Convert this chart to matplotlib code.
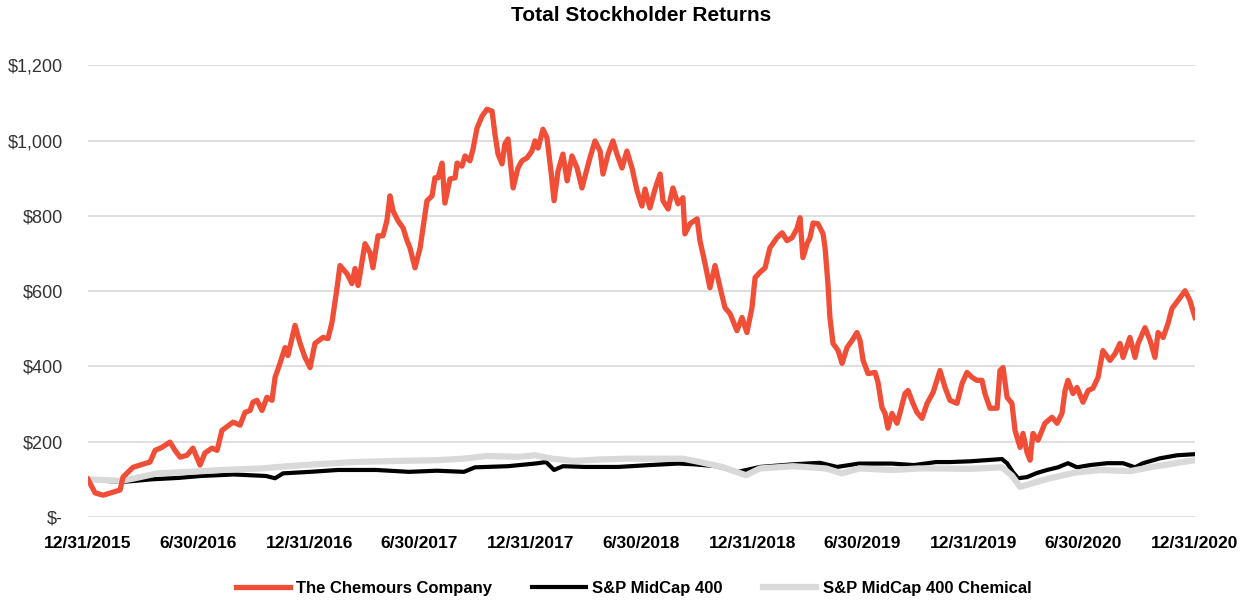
import numpy as np
import pandas as pd
import matplotlib
matplotlib.use("Agg")
import matplotlib.pyplot as plt
from matplotlib.ticker import FuncFormatter

plt.rcParams['font.family'] = ['Liberation Sans Narrow', 'Liberation Sans', 'DejaVu Sans']

# time in years after 12/31/2015
chemours_t = [0.000, 0.032, 0.068, 0.113, 0.145, 0.158, 0.203, 0.235, 0.280, 0.303,
              0.334, 0.370, 0.393, 0.416, 0.447, 0.474, 0.506, 0.528, 0.560, 0.583,
              0.605, 0.655, 0.687, 0.709, 0.732, 0.745, 0.763, 0.786, 0.808, 0.831,
              0.845, 0.867, 0.890, 0.903, 0.935, 0.958, 0.980, 1.003, 1.025, 1.061,
              1.084, 1.102, 1.125, 1.138, 1.170, 1.192, 1.206, 1.220, 1.251, 1.274,
              1.287, 1.310, 1.332, 1.350, 1.364, 1.378, 1.400, 1.423, 1.441, 1.454,
              1.477, 1.500, 1.513, 1.531, 1.554, 1.567, 1.581, 1.599, 1.612, 1.635,
              1.658, 1.667, 1.689, 1.703, 1.725, 1.739, 1.757, 1.780, 1.802, 1.825,
              1.838, 1.852, 1.870, 1.883, 1.897, 1.920, 1.942, 1.960, 1.983, 2.005,
              2.019, 2.033, 2.055, 2.073, 2.092, 2.105, 2.123, 2.145, 2.164, 2.186,
              2.209, 2.231, 2.254, 2.267, 2.290, 2.313, 2.326, 2.349, 2.371, 2.389,
              2.412, 2.434, 2.457, 2.480, 2.502, 2.516, 2.538, 2.561, 2.584, 2.597,
              2.620, 2.642, 2.665, 2.687, 2.696, 2.719, 2.751, 2.764, 2.787, 2.809,
              2.832, 2.855, 2.877, 2.900, 2.931, 2.954, 2.976, 2.999, 3.013, 3.035,
              3.058, 3.080, 3.112, 3.135, 3.157, 3.180, 3.202, 3.216, 3.229, 3.248,
              3.261, 3.275, 3.297, 3.320, 3.329, 3.342, 3.351, 3.365, 3.388, 3.406,
              3.428, 3.451, 3.473, 3.487, 3.501, 3.523, 3.555, 3.568, 3.586, 3.600,
              3.613, 3.631, 3.654, 3.668, 3.690, 3.704, 3.726, 3.744, 3.767, 3.790,
              3.817, 3.848, 3.871, 3.893, 3.925, 3.948, 3.970, 3.993, 4.015, 4.038,
              4.051, 4.074, 4.106, 4.119, 4.133, 4.151, 4.173, 4.187, 4.210, 4.223,
              4.241, 4.255, 4.268, 4.291, 4.322, 4.354, 4.377, 4.399, 4.413, 4.426,
              4.449, 4.467, 4.494, 4.517, 4.539, 4.562, 4.584, 4.616, 4.639, 4.661,
              4.675, 4.706, 4.729, 4.743, 4.774, 4.797, 4.819, 4.833, 4.856, 4.878,
              4.896, 4.923, 4.955, 4.977, 5.000]
chemours = [100, 64, 58, 66, 72, 106, 132, 138, 146, 177,
            185, 199, 177, 159, 164, 183, 138, 170, 183, 177,
            230, 252, 244, 278, 283, 305, 310, 283, 318, 310,
            371, 408, 450, 429, 509, 461, 424, 397, 461, 477,
            474, 517, 609, 668, 646, 620, 660, 615, 726, 702,
            662, 747, 747, 787, 853, 813, 787, 768, 734, 715,
            662, 715, 768, 840, 853, 901, 901, 940, 834, 898,
            901, 940, 932, 959, 946, 977, 1033, 1065, 1083, 1078,
            1017, 964, 938, 991, 1004, 874, 927, 946, 954, 972,
            999, 980, 1030, 1007, 914, 840, 919, 964, 893, 959,
            927, 874, 925, 954, 999, 972, 911, 964, 999, 964,
            927, 972, 927, 866, 826, 871, 821, 871, 911, 840,
            818, 874, 832, 848, 752, 779, 792, 734, 673, 609,
            668, 609, 556, 540, 495, 530, 490, 556, 636, 650,
            662, 715, 742, 755, 734, 742, 766, 795, 689, 726,
            742, 781, 779, 752, 715, 620, 530, 461, 442, 408,
            450, 469, 490, 469, 416, 381, 384, 358, 291, 275,
            236, 275, 249, 278, 328, 336, 302, 278, 262, 302,
            331, 389, 344, 310, 302, 355, 384, 371, 363, 363,
            328, 289, 289, 389, 397, 318, 302, 230, 185, 222,
            172, 151, 222, 204, 249, 265, 249, 275, 336, 363,
            328, 344, 305, 336, 342, 371, 442, 416, 434, 461,
            424, 477, 424, 461, 503, 469, 424, 490, 477, 514,
            554, 575, 601, 575, 530]

midcap_t = [0.000, 0.149, 0.212, 0.285, 0.411, 0.510, 0.659, 0.804, 0.845, 0.881,
            1.003, 1.129, 1.301, 1.450, 1.576, 1.698, 1.748, 1.897, 2.019, 2.069,
            2.105, 2.145, 2.245, 2.394, 2.538, 2.665, 2.737, 2.836, 2.936, 3.035,
            3.184, 3.306, 3.383, 3.482, 3.631, 3.731, 3.830, 3.893, 3.984, 4.128,
            4.151, 4.178, 4.201, 4.241, 4.286, 4.332, 4.381, 4.426, 4.467, 4.526,
            4.603, 4.675, 4.729, 4.765, 4.842, 4.919, 5.000]
midcap = [100, 93, 96, 100, 104, 109, 113, 109, 103, 116,
          120, 125, 125, 120, 123, 120, 132, 135, 142, 146,
          125, 135, 133, 133, 138, 142, 140, 135, 120, 133,
          140, 144, 133, 142, 142, 138, 146, 146, 148, 154,
          143, 119, 103, 106, 117, 125, 132, 143, 132, 138,
          143, 143, 132, 143, 156, 164, 167]

chem_t = [0.000, 0.149, 0.212, 0.312, 0.461, 0.610, 0.781, 0.903, 1.030, 1.201,
          1.400, 1.576, 1.698, 1.798, 1.947, 2.019, 2.096, 2.195, 2.317, 2.444,
          2.566, 2.687, 2.764, 2.864, 2.972, 3.035, 3.184, 3.333, 3.406, 3.482,
          3.631, 3.753, 3.830, 3.984, 4.128, 4.173, 4.210, 4.255, 4.345, 4.458,
          4.571, 4.706, 4.797, 4.910, 5.000]
chem = [100, 96, 103, 116, 120, 125, 129, 135, 140, 146,
        149, 151, 155, 162, 160, 164, 155, 149, 153, 155,
        155, 155, 146, 133, 111, 129, 135, 129, 116, 129,
        125, 129, 129, 128, 132, 110, 80, 88, 103, 118,
        125, 122, 132, 143, 151]

tick_dates = ['2015-12-31', '2016-06-30', '2016-12-31', '2017-06-30', '2017-12-31', '2018-06-30',
              '2018-12-31', '2019-06-30', '2019-12-31', '2020-06-30', '2020-12-31']

start = pd.Timestamp('2015-12-31')


def to_dates(t):
    return start + pd.to_timedelta(np.array(t) * 365.4, unit='D')


fig = plt.figure(figsize=(12.43, 6.04), dpi=100)
ax = fig.add_axes([0.0708, 0.144, 0.8906, 0.748])

ax.plot(to_dates(midcap_t), midcap, color='black', lw=3.0, zorder=2, label='S&P MidCap 400')
ax.plot(to_dates(chem_t), chem, color='#d9d9d9', lw=4.5, zorder=3, label='S&P MidCap 400 Chemical')
ax.plot(to_dates(chemours_t), chemours, color='#f04e37', lw=3.8, zorder=4, label='The Chemours Company')

ax.set_ylim(0, 1200)
ax.set_yticks(range(0, 1201, 200))
ax.yaxis.set_major_formatter(FuncFormatter(lambda v, p: '$-' if v == 0 else f'${v:,.0f}'))
ticks = pd.to_datetime(tick_dates)
ax.set_xlim(ticks[0], ticks[-1])
ax.set_xticks(ticks)
ax.set_xticklabels([f'{d.month}/{d.day}/{d.year}' for d in ticks], fontsize=12.5, fontweight='bold')
ax.tick_params(axis='y', labelsize=13, colors='#333333', length=0, pad=18)
ax.tick_params(axis='x', length=0, pad=14)

ax.grid(axis='y', color='#d9d9d9', lw=1.2)
ax.set_axisbelow(True)
for s in ax.spines.values():
    s.set_visible(False)

ax.set_title('Total Stockholder Returns', fontsize=15, fontweight='bold', pad=32)

h, l = ax.get_legend_handles_labels()
order = [2, 0, 1]
fig.legend([h[i] for i in order], [l[i] for i in order], loc='lower center', ncol=3,
           bbox_to_anchor=(0.51, -0.012), frameon=False, prop={'size': 12, 'weight': 'bold'},
           handlelength=3.2, columnspacing=2.4, handletextpad=0.4)

fig.savefig('out.png', dpi=100)
